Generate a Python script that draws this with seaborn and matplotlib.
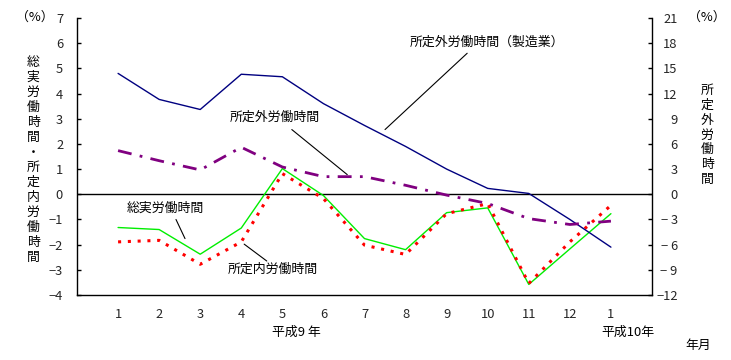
import matplotlib
matplotlib.use("Agg")
import matplotlib.pyplot as plt
import seaborn as sns
import pandas as pd

sns.set_style("white")
plt.rcParams['font.family'] = ['Noto Sans CJK JP', 'DejaVu Sans']
plt.rcParams['axes.unicode_minus'] = True

# ---- data ----
months = ["1", "2", "3", "4", "5", "6", "7", "8", "9", "10", "11", "12", "1"]
total_hours = [-1.32, -1.40, -2.38, -1.34, 1.02, -0.05, -1.76, -2.20, -0.73, -0.54, -3.58, -2.17, -0.77]
scheduled_hours = [-1.89, -1.83, -2.78, -1.89, 0.82, -0.17, -2.02, -2.39, -0.77, -0.37, -3.54, -1.89, -0.44]
overtime = [5.2, 4.0, 2.9, 5.6, 3.25, 2.1, 2.1, 1.07, -0.1, -1.1, -2.9, -3.6, -3.2]
overtime_mfg = [14.4, 11.3, 10.1, 14.3, 14.0, 10.8, 8.2, 5.7, 3.0, 0.7, 0.1, -3.0, -6.3]
left_ticks = [7, 6, 5, 4, 3, 2, 1, 0, -1, -2, -3, -4]
right_ticks = [21, 18, 15, 12, 9, 6, 3, 0, -3, -6, -9, -12]
right_tick_labels = ["21", "18", "15", "12", "9", "6", "3", "0", "\u2212 3", "\u2212 6", "\u2212 9", "\u221212"]

pos = list(range(1, len(months) + 1))
df = pd.DataFrame({"pos": pos, "total": total_hours, "sched": scheduled_hours,
                   "ot": overtime, "otm": overtime_mfg})

fig = plt.figure(figsize=(7.31, 3.60), dpi=100)
ax = fig.add_axes([77/731, 1 - 295/360, (652 - 77)/731, (295 - 18)/360])
ax2 = ax.twinx()

FS = 9.3

sns.lineplot(data=df, x="pos", y="total", ax=ax, color="#00ee00", lw=1.0)
sns.lineplot(data=df, x="pos", y="sched", ax=ax, color="#ff0000", lw=2.2,
             linestyle=(0, (1.0, 2.2)))
sns.lineplot(data=df, x="pos", y="otm", ax=ax2, color="#000080", lw=1.0)
sns.lineplot(data=df, x="pos", y="ot", ax=ax2, color="#800080", lw=2.0,
             linestyle=(0, (5, 3, 1, 3)))

ax.set_xlim(0, 14)
ax.set_ylim(-4, 7)
ax2.set_ylim(-12, 21)
ax.axhline(0, color="black", lw=1.0, zorder=0)

ax.set_xticks(pos)
ax.set_xticklabels(months, fontsize=FS)
ax.set_yticks(left_ticks)
ax.set_yticklabels([str(v).replace("-", "\u2212") for v in left_ticks], fontsize=FS)
ax2.set_yticks(right_ticks)
ax2.set_yticklabels(right_tick_labels, fontsize=FS, ha="right")

for a in (ax, ax2):
    a.set_xlabel("")
    a.set_ylabel("")
    a.spines['top'].set_visible(False)
    for s in ('left', 'right', 'bottom'):
        a.spines[s].set_color("black")
        a.spines[s].set_linewidth(1.0)
ax.spines['right'].set_visible(False)
ax2.spines['left'].set_visible(False)
ax2.spines['bottom'].set_visible(False)
ax.tick_params(axis='both', direction='in', length=3, width=1, color='black')
ax.tick_params(axis='y', pad=10)
ax.tick_params(axis='x', pad=9)
ax2.tick_params(axis='y', direction='in', length=3, width=1, color='black', pad=18.5)
ax.yaxis.set_ticks_position('left')
ax2.yaxis.set_ticks_position('right')

# annotations (text + leader lines), in left-axis data coordinates
def note(text, xytext, xy_from, xy_to, ha="left"):
    ax.text(xytext[0], xytext[1], text, fontsize=FS, ha=ha, va="center", color="black")
    ax.annotate("", xy=xy_to, xytext=xy_from,
                arrowprops=dict(arrowstyle="-", color="black", lw=0.8,
                                shrinkA=0, shrinkB=0))

note("所定外労働時間（製造業）", (8.1, 6.05), (9.5, 5.6), (7.5, 2.57))
note("所定外労働時間", (3.71, 3.04), (5.23, 2.57), (6.58, 0.78))
note("総実労働時間", (1.22, -0.57), (2.41, -1.0), (2.63, -1.76))
note("所定内労働時間", (3.68, -2.99), (4.07, -1.98), (4.62, -2.65))

# figure-level labels
def ftext(px, py, s, **kw):
    fig.text(px / 731, 1 - py / 360, s, fontsize=FS, color="black", **kw)

ftext(35, 17, "（%）", ha="center", va="center")
ftext(707, 17, "（%）", ha="center", va="center")
ftext(33, 160, "\n".join("総実労働時間・所定内労働時間"), ha="center", va="center",
      linespacing=1.2)
ftext(707, 135, "\n".join("所定外労働時間"), ha="center", va="center", linespacing=1.18)
ftext(296, 332, "平成9 年", ha="center", va="center")
ftext(628, 332, "平成10年", ha="center", va="center")
ftext(698, 345, "年月", ha="center", va="center")

fig.savefig("out.png", dpi=100)
